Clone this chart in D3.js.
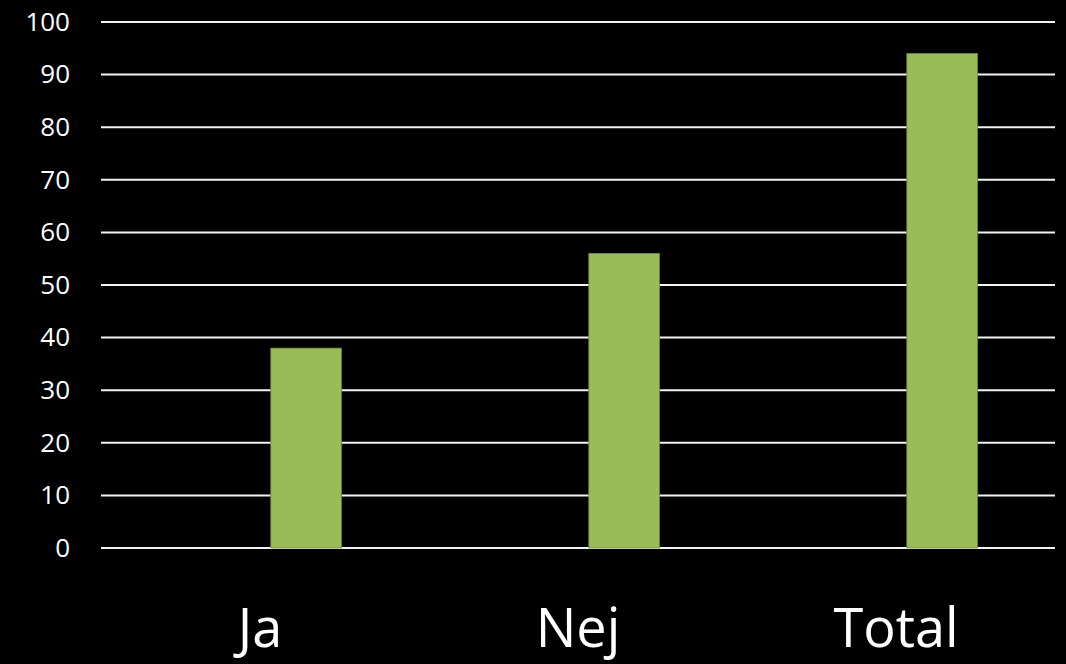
<!DOCTYPE html>
<html>
<head>
<meta charset="utf-8">
<script src="https://cdn.jsdelivr.net/npm/d3@7"></script>
<style>
  html, body { margin: 0; padding: 0; background: #000; }
  svg { display: block; }
</style>
</head>
<body>
<div id="chart"></div>
<script>
const categories = ["Ja", "Nej", "Total"];
const values = [38, 56, 94];
const yTicks = [0, 10, 20, 30, 40, 50, 60, 70, 80, 90, 100];

const width = 1066;
const height = 664;
const plot = { left: 101, right: 1055, top: 22, bottom: 548 };

const svg = d3.select("#chart")
  .append("svg")
  .attr("width", width)
  .attr("height", height)
  .style("background", "#000");

const xScale = d3.scaleBand()
  .domain(categories)
  .range([plot.left, plot.right]);

const yScale = d3.scaleLinear()
  .domain([0, 100])
  .range([plot.bottom, plot.top]);

// gridlines
svg.append("g")
  .selectAll("line")
  .data(yTicks)
  .enter()
  .append("line")
  .attr("x1", plot.left)
  .attr("x2", plot.right)
  .attr("y1", d => yScale(d))
  .attr("y2", d => yScale(d))
  .attr("stroke", "#f2f2f2")
  .attr("stroke-width", 2);

// y axis labels
const yAxis = d3.axisLeft(yScale)
  .tickValues(yTicks)
  .tickSize(0)
  .tickPadding(0);

svg.append("g")
  .attr("id", "y-axis")
  .attr("transform", `translate(70, 0)`)
  .call(yAxis)
  .call(g => g.select(".domain").remove())
  .selectAll("text")
  .attr("fill", "#fff")
  .attr("font-family", "'Open Sans', sans-serif")
  .attr("font-size", 26);

// bars (sit right of band centre, like the original)
const bw = xScale.bandwidth();
svg.selectAll(".bar")
  .data(categories)
  .enter()
  .append("rect")
  .attr("class", "bar")
  .attr("x", (d) => xScale(d) + bw * 0.534)
  .attr("y", (d, i) => yScale(values[i]))
  .attr("width", bw * 0.222)
  .attr("height", (d, i) => yScale(0) - yScale(values[i]))
  .attr("fill", "#9bbb59")
  .attr("stroke", "#71893f")
  .attr("stroke-width", 0.8);

// x axis labels
const xAxis = d3.axisBottom(xScale)
  .tickSize(0)
  .tickPadding(0);

svg.append("g")
  .attr("id", "x-axis")
  .attr("transform", `translate(0, 647)`)
  .call(xAxis)
  .call(g => g.select(".domain").remove())
  .selectAll("text")
  .attr("fill", "#fff")
  .attr("font-family", "'Open Sans', sans-serif")
  .attr("font-size", 54)
  .attr("dy", "0")
  .attr("y", 0);
</script>
</body>
</html>
